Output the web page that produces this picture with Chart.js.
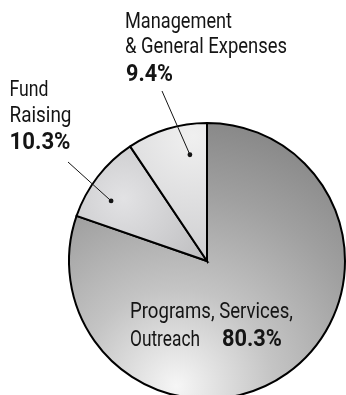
<!DOCTYPE html>
<html>
<head>
<meta charset="utf-8">
<script src="https://cdn.jsdelivr.net/npm/chart.js@4.4.1/dist/chart.umd.min.js"></script>
<style>
  html, body { margin: 0; padding: 0; background: #fff; }
  #wrap { width: 346px; height: 395px; overflow: hidden; position: relative; }
  canvas { display: block; }
</style>
</head>
<body>
<div id="wrap"><canvas id="c" width="346" height="430"></canvas></div>
<script>
const categories = ["Programs, Services, Outreach", "Fund Raising", "Management & General Expenses"];
const values = [80.3, 10.3, 9.4];
const valueLabels = ["80.3%", "10.3%", "9.4%"];
const labelLines = [["Programs, Services,", "Outreach"], ["Fund", "Raising"], ["Management", "& General Expenses"]];

const FONT = 'Roboto, "Liberation Sans", sans-serif';

function makeFill(index, chart) {
  const area = chart.chartArea;
  if (!area) return '#aaaaaa';
  const ctx = chart.ctx;
  const cx = (area.left + area.right) / 2, cy = (area.top + area.bottom) / 2;
  const R = Math.min(area.right - area.left, area.bottom - area.top) / 2;
  let g;
  if (index === 0) {
    g = ctx.createRadialGradient(cx - 0.22 * R, cy + 0.9 * R, 0, cx - 0.22 * R, cy + 0.9 * R, 2.0 * R);
    g.addColorStop(0, '#f6f6f6');
    g.addColorStop(0.35, '#c4c4c4');
    g.addColorStop(0.7, '#a0a0a0');
    g.addColorStop(1, '#858585');
  } else if (index === 1) {
    g = ctx.createRadialGradient(cx - 0.6 * R, cy - 0.45 * R, 0, cx - 0.6 * R, cy - 0.45 * R, 0.75 * R);
    g.addColorStop(0, '#e2e2e4');
    g.addColorStop(1, '#bdbdbf');
  } else {
    g = ctx.createRadialGradient(cx - 0.1 * R, cy - 0.9 * R, 0, cx - 0.1 * R, cy - 0.9 * R, 0.9 * R);
    g.addColorStop(0, '#f0f0f0');
    g.addColorStop(1, '#cfcfd1');
  }
  return g;
}

const annotations = {
  id: 'annotations',
  afterDatasetsDraw(chart) {
    const ctx = chart.ctx;
    const meta = chart.getDatasetMeta(0);
    ctx.save();
    ctx.fillStyle = '#141414';
    ctx.strokeStyle = '#141414';
    ctx.textBaseline = 'alphabetic';
    ctx.textAlign = 'left';

    // draw text condensed horizontally to a given width
    function txt(s, x, y, bold, size, w) {
      ctx.save();
      ctx.font = (bold ? 'bold ' : '') + size + 'px ' + FONT;
      const m = ctx.measureText(s).width;
      ctx.translate(x, y);
      ctx.scale(w / m, 1);
      ctx.fillText(s, 0, 0);
      ctx.restore();
    }
    function dotOn(arc, frac, rfrac) {
      const a = arc.startAngle + (arc.endAngle - arc.startAngle) * frac;
      const r = arc.outerRadius * rfrac;
      return { x: arc.x + Math.cos(a) * r, y: arc.y + Math.sin(a) * r };
    }
    function leader(x0, y0, p) {
      ctx.lineWidth = 1;
      ctx.beginPath();
      ctx.moveTo(x0, y0);
      ctx.lineTo(p.x, p.y);
      ctx.stroke();
      ctx.beginPath();
      ctx.arc(p.x, p.y, 2.4, 0, Math.PI * 2);
      ctx.fill();
    }

    // Management
    const pM = dotOn(meta.data[2], 0.73, 0.78);
    leader(162, 91, pM);
    txt(labelLines[2][0], 125, 28, false, 21.5, 107);
    txt(labelLines[2][1], 125, 52.5, false, 21.5, 162);
    txt(valueLabels[2], 126, 80.5, true, 23, 47);

    // Fund Raising
    const pF = dotOn(meta.data[1], 0.35, 0.82);
    leader(68, 162, pF);
    txt(labelLines[1][0], 9.5, 95.5, false, 21.5, 39);
    txt(labelLines[1][1], 9.5, 122, false, 21.5, 62);
    txt(valueLabels[1], 9.5, 149, true, 23, 61);

    // Programs
    txt(labelLines[0][0], 130, 318, false, 21.5, 163);
    txt(labelLines[0][1], 130, 346, false, 21.5, 70);
    txt(valueLabels[0], 222, 346, true, 23, 60);
    ctx.restore();
  }
};

new Chart(document.getElementById('c'), {
  type: 'pie',
  data: {
    labels: categories,
    datasets: [{
      data: values,
      backgroundColor: (c) => makeFill(c.dataIndex, c.chart),
      borderColor: '#000000',
      borderWidth: 2,
      borderJoinStyle: 'miter'
    }]
  },
  options: {
    responsive: false,
    animation: false,
    layout: { padding: { left: 68, right: 0, top: 122, bottom: 30 } },
    plugins: { legend: { display: false }, tooltip: { enabled: false } },
    events: []
  },
  plugins: [annotations]
});
</script>
</body>
</html>
